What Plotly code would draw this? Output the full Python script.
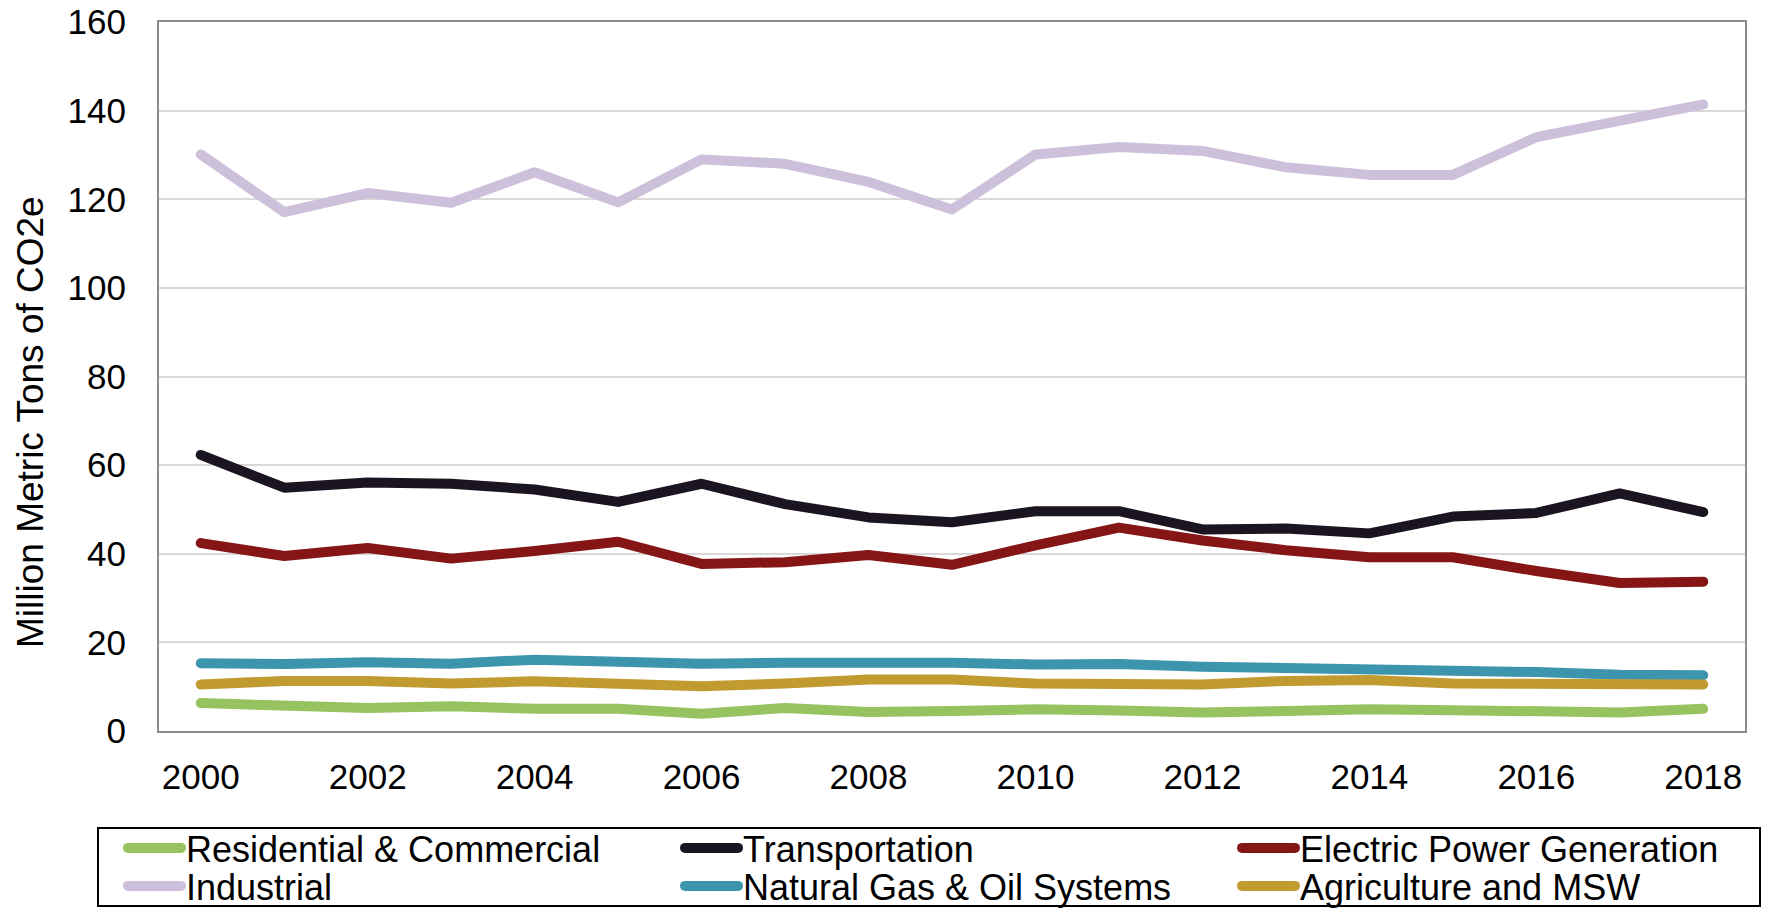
import plotly.graph_objects as go

# Annual emissions by sector, million metric tons CO2e
years = list(range(2000, 2019))

residential = [6.3, 5.5, 5.2, 5.6, 5.0, 5.0, 3.9, 5.2, 4.3, 4.5, 4.9, 4.6, 4.2, 4.5, 4.9, 4.7, 4.4, 4.2, 5.0]
transportation = [62.3, 54.9, 56.1, 55.8, 54.5, 51.7, 55.8, 51.2, 48.2, 47.1, 49.6, 49.6, 45.5, 45.7, 44.6, 48.4, 49.2, 53.6, 49.4]
electric = [42.4, 39.5, 41.3, 38.9, 40.6, 42.7, 37.7, 38.1, 39.7, 37.5, 41.9, 45.9, 43.0, 40.8, 39.2, 39.2, 36.1, 33.4, 33.7]
industrial = [130.1, 117.1, 121.4, 119.2, 126.1, 119.3, 129.0, 128.0, 123.9, 117.7, 130.1, 131.8, 130.9, 127.2, 125.5, 125.5, 134.0, 137.8, 141.4]
natural_gas = [15.3, 15.1, 15.5, 15.2, 16.1, 15.4, 15.2, 15.4, 15.6, 15.4, 15.0, 15.1, 14.5, 14.3, 14.0, 13.8, 13.3, 12.7, 12.6]
agriculture = [10.5, 11.3, 11.3, 10.7, 11.2, 10.7, 10.1, 10.7, 11.6, 11.6, 10.7, 10.6, 10.5, 11.3, 11.5, 10.7, 10.5, 10.5, 10.5]

series = [
    ("Residential & Commercial", residential, "#96c25f", "legend"),
    ("Transportation", transportation, "#1b1521", "legend"),
    ("Electric Power Generation", electric, "#861516", "legend"),
    ("Industrial", industrial, "#cdc0da", "legend2"),
    ("Natural Gas & Oil Systems", natural_gas, "#3d95ad", "legend2"),
    ("Agriculture and MSW", agriculture, "#c19b30", "legend2"),
]

FONT = "Arial, Liberation Sans, sans-serif"

fig = go.Figure()
for name, values, color, leg in series:
    fig.add_trace(go.Scatter(
        x=years, y=values, name=name, mode="lines",
        line=dict(color=color, width=10),
        legend=leg,
    ))

W, H = 1772, 908
ml, mr, mt, mb = 159, 27, 22, 177
pw, ph = W - ml - mr, H - mt - mb


def px_x(p):
    return (p - ml) / pw


def px_y(p):
    return (H - mb - p) / ph


legend_common = dict(
    orientation="h",
    font=dict(family=FONT, size=36, color="#000000"),
    bgcolor="rgba(0,0,0,0)",
    borderwidth=0,
    itemwidth=53,
    entrywidth=489,
    xanchor="left",
    yanchor="middle",
    traceorder="normal",
    itemclick=False,
    itemdoubleclick=False,
)

fig.update_layout(
    width=W, height=H,
    margin=dict(l=ml, r=mr, t=mt, b=mb, autoexpand=False),
    paper_bgcolor="white",
    plot_bgcolor="white",
    font=dict(family=FONT, size=35, color="#000000"),
    showlegend=True,
    legend=dict(x=px_x(123), y=px_y(848), **legend_common),
    legend2=dict(x=px_x(123), y=px_y(886), **legend_common),
    xaxis=dict(
        range=[1999.5, 2018.5],
        tick0=2000, dtick=2,
        showgrid=False, zeroline=False,
        showline=True, linecolor="#8c8c8c", linewidth=2, mirror=True,
        ticks="", ticklabelstandoff=14,
        tickfont=dict(family=FONT, size=35, color="#000000"),
    ),
    yaxis=dict(
        range=[0, 160],
        tick0=0, dtick=20,
        showgrid=True, gridcolor="#d9d9d9", gridwidth=2,
        zeroline=False,
        showline=True, linecolor="#8c8c8c", linewidth=2, mirror=True,
        ticks="", ticklabelstandoff=24,
        tickfont=dict(family=FONT, size=35, color="#000000"),
    ),
    annotations=[dict(
        text="Million Metric Tons of CO2e",
        xref="paper", yref="paper",
        x=px_x(30), y=px_y(422),
        xanchor="center", yanchor="middle",
        textangle=-90, showarrow=False,
        font=dict(family=FONT, size=37, color="#000000"),
    )],
    shapes=[dict(
        type="rect", xref="paper", yref="paper",
        x0=px_x(98), x1=px_x(1760), y0=px_y(828), y1=px_y(906),
        line=dict(color="#000000", width=2),
        fillcolor="rgba(0,0,0,0)", layer="above",
    )],
)

round_caps = """
var gd = document.getElementById('{plot_id}');
function roundLines() {
  gd.querySelectorAll('path.js-line').forEach(function(p) {
    p.style.strokeLinecap = 'round';
    p.style.strokeLinejoin = 'round';
  });
}
roundLines();
gd.on('plotly_afterplot', roundLines);
"""

fig.write_html("out.html", post_script=round_caps)
